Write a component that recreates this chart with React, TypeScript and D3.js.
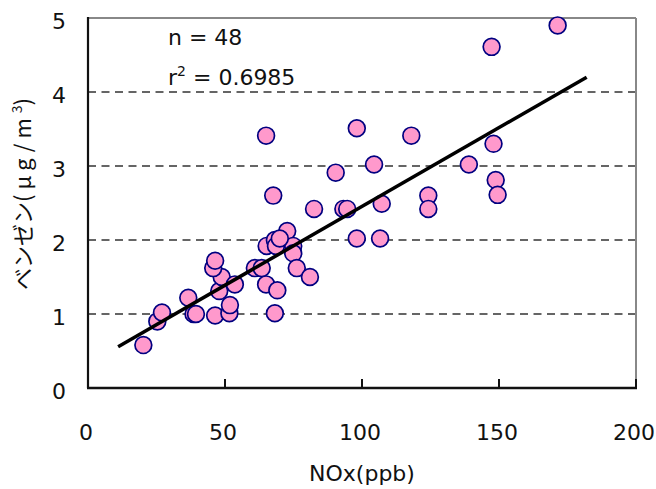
import React from "react";
import * as d3 from "d3";

const noxValues = [
  20.2, 25.3, 27.0, 36.6, 38.5, 39.4, 46.4, 51.6, 51.8, 47.9,
  48.8, 53.6, 45.7, 46.4, 60.9, 63.4, 65.0, 69.1, 68.2, 65.2,
  68.2, 68.6, 72.7, 74.9, 74.9, 76.2, 81.0, 65.0, 67.6, 82.5,
  93.2, 94.6, 90.4, 98.1, 104.4, 107.2, 98.1, 106.6, 118.0, 124.2,
  124.2, 139.0, 148.0, 147.3, 171.4, 148.8, 149.5, 70.0,
];
const benzeneValues = [
  0.58, 0.90, 1.02, 1.22, 1.00, 1.00, 0.98, 1.01, 1.12, 1.31,
  1.50, 1.40, 1.62, 1.72, 1.62, 1.62, 1.40, 1.32, 1.01, 1.92,
  2.00, 1.92, 2.12, 1.92, 1.82, 1.62, 1.50, 3.41, 2.60, 2.42,
  2.42, 2.42, 2.91, 3.51, 3.02, 2.49, 2.02, 2.02, 3.41, 2.60,
  2.42, 3.02, 3.30, 4.61, 4.90, 2.81, 2.61, 2.02,
];
const xTicks = [0, 50, 100, 150, 200];
const yTicks = [0, 1, 2, 3, 4, 5];
const fitSlope = 0.0213;
const fitIntercept = 0.324;
const fitRange = [11, 182];
const statN = "n = 48";
const statR2 = "0.6985";

const W = 656;
const H = 489;
const plot = { left: 88, right: 636, top: 18, bottom: 388 };
const FONT = "'DejaVu Sans', 'Liberation Sans', Arial, sans-serif";

export default function App() {
  const x = d3.scaleLinear().domain([0, 200]).range([plot.left, plot.right]);
  const y = d3.scaleLinear().domain([0, 5]).range([plot.bottom, plot.top]);
  const points = noxValues.map((v, i) => ({ x: v, y: benzeneValues[i] }));
  const fitLine = d3
    .line<number>()
    .x((d) => x(d))
    .y((d) => y(fitSlope * d + fitIntercept))(fitRange);

  return (
    <svg
      width={W}
      height={H}
      style={{ position: "absolute", left: 0, top: 0, background: "#fff" }}
    >
      <rect x={0} y={0} width={W} height={H} fill="#fff" />
      {/* gridlines */}
      {yTicks
        .filter((t) => t > 0 && t < 5)
        .map((t) => (
          <line
            key={"g" + t}
            x1={plot.left}
            x2={plot.right}
            y1={y(t)}
            y2={y(t)}
            stroke="#333"
            strokeWidth={1.4}
            strokeDasharray="8,5.5"
          />
        ))}
      {/* top and right border */}
      <line x1={plot.left} x2={plot.right} y1={plot.top} y2={plot.top} stroke="#888" strokeWidth={2} />
      <line x1={plot.right} x2={plot.right} y1={plot.top} y2={plot.bottom} stroke="#888" strokeWidth={2} />
      {/* points */}
      {points.map((p, i) => (
        <circle
          key={i}
          cx={x(p.x)}
          cy={y(p.y)}
          r={8.4}
          fill="#FF99CC"
          stroke="#000080"
          strokeWidth={1.7}
        />
      ))}
      {/* regression */}
      <path d={fitLine || ""} fill="none" stroke="#000" strokeWidth={3.5} />
      {/* axes */}
      <line x1={plot.left} x2={plot.left} y1={plot.top - 1} y2={plot.bottom} stroke="#111" strokeWidth={2.2} />
      <line x1={plot.left - 1} x2={plot.right + 1} y1={plot.bottom} y2={plot.bottom} stroke="#111" strokeWidth={2.5} />
      {xTicks
        .filter((t) => t > 0)
        .map((t) => (
          <line key={"t" + t} x1={x(t)} x2={x(t)} y1={plot.bottom} y2={plot.bottom - 9} stroke="#111" strokeWidth={2} />
        ))}
      {/* tick labels */}
      {xTicks.map((t) => (
        <text
          key={"xl" + t}
          x={x(t) - 2}
          y={440}
          textAnchor="middle"
          fontFamily={FONT}
          fontSize={22}
          fill="#111"
        >
          {t}
        </text>
      ))}
      {yTicks.map((t) => (
        <text
          key={"yl" + t}
          x={66}
          y={y(t) + 11}
          textAnchor="end"
          fontFamily={FONT}
          fontSize={22}
          fill="#111"
        >
          {t}
        </text>
      ))}
      {/* annotations */}
      <text x={168} y={45} fontFamily={FONT} fontSize={22} fill="#111">
        {statN}
      </text>
      <text x={168} y={85} fontFamily={FONT} fontSize={22} fill="#111">
        r<tspan dy={-9} fontSize={14}>2</tspan>
        <tspan dy={9}>{" = " + statR2}</tspan>
      </text>
      {/* axis titles */}
      <text x={362} y={481} textAnchor="middle" fontFamily={FONT} fontSize={22} fill="#111">
        NOx(ppb)
      </text>
      <text
        transform="translate(31,194) rotate(-90)"
        textAnchor="middle"
        fontFamily="'Noto Sans CJK JP', sans-serif"
        fontSize={22}
        fill="#111"
      >
        ベンゼン
        <tspan letterSpacing={5}>(μg/m</tspan>
        <tspan dy={-9} fontSize={14}>3</tspan>
        <tspan dy={9}>)</tspan>
      </text>
    </svg>
  );
}
